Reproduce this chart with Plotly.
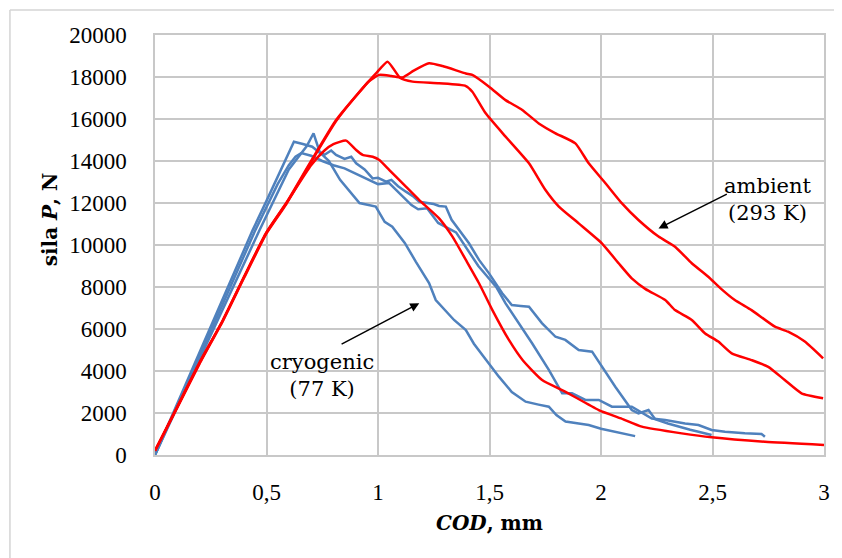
import plotly.graph_objects as go

# ---- data (COD in mm, force in N) ----
blue1_x = [0, 0.1, 0.3, 0.438, 0.5, 0.623, 0.663, 0.705, 0.75, 0.78, 0.83, 0.917, 0.99, 1.03, 1.064, 1.12, 1.17, 1.229, 1.259, 1.30, 1.341, 1.394, 1.43, 1.468, 1.542, 1.60, 1.662, 1.72, 1.766, 1.80, 1.841, 1.90, 1.945, 2.00, 2.064, 2.12, 2.153]
blue1_y = [0, 2450, 7300, 10710, 12100, 14920, 14810, 14680, 14300, 14000, 13100, 12000, 11830, 11100, 10870, 10100, 9200, 8190, 7380, 6900, 6430, 5950, 5300, 4760, 3730, 3000, 2540, 2400, 2300, 1900, 1590, 1500, 1430, 1250, 1110, 1000, 900]

blue2_x = [0, 0.1, 0.3, 0.469, 0.6, 0.68, 0.711, 0.738, 0.76, 0.79, 0.812, 0.85, 0.88, 0.902, 0.94, 0.976, 1.0, 1.036, 1.06, 1.09, 1.125, 1.16, 1.185, 1.22, 1.25, 1.274, 1.304, 1.33, 1.364, 1.408, 1.453, 1.498, 1.557, 1.60, 1.64, 1.677, 1.735, 1.796, 1.84, 1.9, 1.96, 2.004, 2.064, 2.138, 2.168, 2.213, 2.243, 2.30, 2.347, 2.40, 2.437, 2.496]
blue2_y = [0, 2280, 6850, 10710, 13600, 14700, 15320, 14440, 14300, 14500, 14290, 14100, 14200, 13890, 13600, 13170, 13200, 13020, 13100, 12800, 12540, 12300, 12060, 12000, 11950, 11860, 11830, 11200, 10710, 10080, 9290, 8650, 7700, 7140, 7100, 7060, 6280, 5630, 5480, 5000, 4920, 4200, 3250, 2140, 1980, 2140, 1700, 1500, 1350, 1200, 1110, 950]

blue3_x = [0, 0.1, 0.3, 0.45, 0.55, 0.6, 0.63, 0.656, 0.7, 0.75, 0.8, 0.85, 0.9, 0.95, 1.0, 1.05, 1.1, 1.15, 1.18, 1.22, 1.27, 1.35, 1.45, 1.53, 1.572, 1.63, 1.691, 1.766, 1.826, 1.87, 1.93, 1.99, 2.049, 2.138, 2.228, 2.288, 2.377, 2.437, 2.496, 2.556, 2.645, 2.72, 2.735]
blue3_y = [0, 2350, 7100, 10710, 12900, 13800, 14200, 14380, 14250, 14000, 13800, 13650, 13400, 13150, 12900, 12950, 12400, 11900, 11700, 11750, 11050, 10600, 9000, 8000, 7220, 6300, 5320, 4050, 2940, 2940, 2620, 2620, 2300, 2300, 1740, 1670, 1500, 1430, 1190, 1110, 1030, 1000, 870]

red1_x = [0, 0.1, 0.2, 0.305, 0.4, 0.5, 0.589, 0.7, 0.76, 0.8, 0.857, 0.902, 0.931, 0.976, 1.006, 1.051, 1.125, 1.185, 1.274, 1.334, 1.394, 1.453, 1.513, 1.587, 1.65, 1.736, 1.841, 1.99, 2.1, 2.183, 2.362, 2.496, 2.735, 3.0]
red1_y = [200, 2300, 4400, 6430, 8500, 10600, 12000, 13800, 14500, 14800, 14970, 14520, 14290, 14200, 14050, 13570, 12780, 12140, 11270, 10400, 9290, 8180, 6900, 5480, 4500, 3570, 3010, 2140, 1700, 1350, 1030, 840, 630, 480]

red2_x = [0, 0.1, 0.2, 0.305, 0.4, 0.5, 0.589, 0.7, 0.812, 0.931, 0.991, 1.043, 1.1, 1.155, 1.274, 1.394, 1.423, 1.483, 1.572, 1.677, 1.751, 1.811, 1.9, 2.004, 2.079, 2.138, 2.2, 2.288, 2.332, 2.407, 2.467, 2.526, 2.586, 2.675, 2.75, 2.824, 2.899, 2.996]
red2_y = [200, 2300, 4400, 6430, 8500, 10600, 12000, 14000, 15950, 17460, 18170, 18730, 17950, 17780, 17700, 17570, 17300, 16270, 15160, 13890, 12620, 11830, 11030, 10080, 9130, 8410, 7900, 7380, 6900, 6430, 5790, 5400, 4840, 4520, 4200, 3570, 2940, 2700]

red3_x = [0, 0.1, 0.2, 0.305, 0.4, 0.5, 0.589, 0.7, 0.812, 0.917, 0.96, 1.006, 1.06, 1.11, 1.16, 1.229, 1.289, 1.394, 1.423, 1.498, 1.572, 1.647, 1.721, 1.796, 1.885, 1.945, 2.02, 2.094, 2.168, 2.258, 2.332, 2.407, 2.481, 2.54, 2.6, 2.675, 2.78, 2.839, 2.914, 2.996]
red3_y = [200, 2250, 4350, 6400, 8450, 10550, 11950, 13950, 15900, 17300, 17800, 18100, 18050, 17980, 18300, 18650, 18520, 18170, 18100, 17540, 16900, 16430, 15790, 15320, 14840, 13890, 12940, 11980, 11190, 10400, 9920, 9130, 8490, 7900, 7380, 6900, 6110, 5870, 5400, 4600]

x_tick_vals = [0, 0.5, 1, 1.5, 2, 2.5, 3]
x_tick_text = ["0", "0,5", "1", "1,5", "2", "2,5", "3"]
y_tick_vals = [0, 2000, 4000, 6000, 8000, 10000, 12000, 14000, 16000, 18000, 20000]

BLUE = "#4f81bd"
RED = "#ff0000"
TICKFONT = "Liberation Serif"
TEXTFONT = "DejaVu Serif"

fig = go.Figure()
for xs, ys in [(blue1_x, blue1_y), (blue2_x, blue2_y), (blue3_x, blue3_y)]:
    fig.add_trace(go.Scatter(x=xs, y=ys, mode="lines",
                             line=dict(color=BLUE, width=2.5), showlegend=False))
for xs, ys in [(red1_x, red1_y), (red2_x, red2_y), (red3_x, red3_y)]:
    fig.add_trace(go.Scatter(x=xs, y=ys, mode="lines",
                             line=dict(color=RED, width=2.5, shape="spline", smoothing=0.5),
                             showlegend=False))

GRID = "#c8c8c8"
fig.update_xaxes(range=[0, 3], tickvals=x_tick_vals, ticktext=x_tick_text,
                 showgrid=True, gridcolor=GRID, gridwidth=1.5,
                 showline=True, linecolor=GRID, linewidth=1.5, mirror=True,
                 zeroline=False, ticks="", ticklabelstandoff=16,
                 tickfont=dict(family=TICKFONT, size=23, color="black"))
fig.update_yaxes(range=[0, 20000], tickvals=y_tick_vals, tickformat="d",
                 showgrid=True, gridcolor=GRID, gridwidth=1.5,
                 showline=True, linecolor=GRID, linewidth=1.5, mirror=True,
                 zeroline=False, ticks="", ticklabelstandoff=22,
                 tickfont=dict(family=TICKFONT, size=23, color="black"))

# plot area in page pixels: x 155..826, y 35..455 (671 x 420)
def px(p):
    return (p - 155) / 671

def py(p):
    return (455 - p) / 420

annotations = [
    dict(xref="paper", yref="paper", x=px(490), y=py(523), xanchor="center", yanchor="middle",
         text="<b><i>COD</i>, mm</b>", showarrow=False,
         font=dict(family=TEXTFONT, size=20, color="black")),
    dict(xref="paper", yref="paper", x=px(50), y=py(219), xanchor="center", yanchor="middle",
         text="<b>sila <i>P</i>, N</b>", showarrow=False, textangle=-90,
         font=dict(family=TEXTFONT, size=20, color="black")),
    dict(x=2.75, y=12150, text="ambient<br>(293 K)", showarrow=False,
         xanchor="center", yanchor="middle",
         font=dict(family=TEXTFONT, size=21, color="black"), align="center"),
    dict(x=0.751, y=3780, text="cryogenic<br>(77 K)", showarrow=False,
         xanchor="center", yanchor="middle",
         font=dict(family=TEXTFONT, size=21, color="black"), align="center"),
    dict(x=2.258, y=10790, ax=2.571, ay=12460, axref="x", ayref="y",
         text="", showarrow=True, arrowhead=2, arrowsize=1.2, arrowwidth=1.5,
         arrowcolor="black"),
    dict(x=1.185, y=7224, ax=0.830, ay=5240, axref="x", ayref="y",
         text="", showarrow=True, arrowhead=2, arrowsize=1.2, arrowwidth=1.5,
         arrowcolor="black"),
]

# The page body has an 8 px margin, so the figure spans page x 8..842, y 8..558
fig.update_layout(
    width=834, height=550,
    margin=dict(l=147, r=16, t=27, b=103),
    paper_bgcolor="white", plot_bgcolor="white",
    annotations=annotations,
    shapes=[
        dict(type="line", xref="paper", yref="paper",
             x0=px(9.5), x1=px(9.5), y0=py(560), y1=py(10),
             line=dict(color="#d4d4d4", width=1.5), layer="above"),
        dict(type="line", xref="paper", yref="paper",
             x0=px(9.5), x1=px(845), y0=py(10), y1=py(10),
             line=dict(color="#d4d4d4", width=1.5), layer="above"),
    ],
)

fig.write_html("out.html")
